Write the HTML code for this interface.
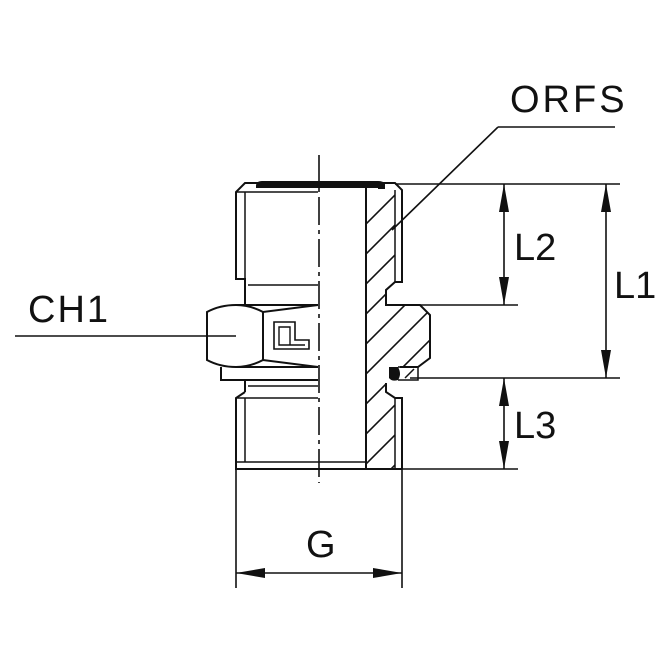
<!DOCTYPE html>
<html><head><style>body{margin:0;background:#fff}svg{display:block}text{font-family:"Liberation Sans",sans-serif;fill:#111}</style></head>
<body>
<svg width="670" height="670" viewBox="0 0 670 670" xmlns="http://www.w3.org/2000/svg">
<defs>
<clipPath id="wall"><path d="M366 192 L395 192 L395 282 L386 290 L386 305 L420 305 L430 315 L430 358 L418 367 L386 367 L386 392 L395 398 L395 469 L366 469 Z"/></clipPath>
</defs>
<g stroke="#111" stroke-width="2" fill="none">
<g clip-path="url(#wall)" stroke-width="1.6">
<path d="M340 250 L440 150 M340 280 L440 180 M340 310 L440 210 M340 340 L440 240 M340 370 L440 270 M340 400 L440 300 M340 430 L440 330 M340 460 L440 360 M340 490 L440 390 M340 520 L440 420 M340 550 L440 450 M340 580 L440 480"/>
</g>
<path d="M319 155 L319 483" stroke-width="1.6" stroke-dasharray="28,5,4,5"/>
<path d="M318 183 L245 183 L236 192 L236 279 L245 279 L245 304"/>
<path d="M245 192 L245 279 M236 192 L318 192" stroke-width="1.5"/>
<path d="M248 285 L318 285" stroke-width="1.5"/>
<path d="M236 305 L318 305 M236 367 L318 367"/>
<path d="M318 305 L263 312 Q250 305 236 305 Q220 305 207 312 L207 360 Q220 367 236 367 Q250 367 263 360 L318 367"/>
<path d="M263 312 L263 360"/>
<path d="M274 322 L295 322 L295 340 L309 340 L309 349 L274 349 Z" stroke-width="1.6"/>
<path d="M279 327 L290 327 L290 345 L279 345 Z M290 345 L305 345" stroke-width="1.4"/>
<path d="M221 367 L221 380 L318 380 M245 380 L245 392"/>
<path d="M248 386 L318 386" stroke-width="1.5"/>
<path d="M245 392 L236 398 L236 469 L402 469"/>
<path d="M245 398 L245 462 M236 398 L318 398 M236 462 L318 462" stroke-width="1.5"/>
<path d="M366 183 L366 469"/>
<path d="M318 462 L366 462" stroke-width="1.5"/>
<path d="M380 183 L395 183 L402 190 L402 282 L395 282 L386 290 L386 305 L420 305 L430 315 L430 358 L418 367 L400 367 M386 383 L386 392 L395 398 L402 398 L402 469"/>
<path d="M395 190 L395 282 M395 398 L395 469" stroke-width="1.5"/>
<path d="M398 367 L418 367 L418 380 L398 380" stroke-width="1.5"/>
<path d="M405 378 L414 369" stroke-width="1.5"/>
<path d="M395 184 L620 184 M395 305 L518 305 M410 378 L620 378 M402 469 L518 469" stroke-width="1.6"/>
<path d="M504 184 L504 305 M606 184 L606 378 M504 378 L504 469" stroke-width="1.6"/>
<path d="M236 469 L236 588 M402 469 L402 588 M236 573 L402 573" stroke-width="1.6"/>
<path d="M498 127 L615 127 M498 127 L392 230" stroke-width="1.6"/>
<path d="M15 336 L236 336" stroke-width="1.6"/>
</g>
<path d="M256 186 Q256 181 262 181 L378 181 Q385 181 385 186 L381 188 L256 188 Z" fill="#111"/>
<rect x="378" y="184" width="7" height="5" fill="#111"/>
<path d="M389 367 L398 367 Q402 374 398 380 Q392 382 389 378 Z" fill="#111"/>
<g fill="#111">
<path d="M504 184 L499 212 L509 212 Z M504 305 L499 277 L509 277 Z"/>
<path d="M606 184 L601 212 L611 212 Z M606 378 L601 350 L611 350 Z"/>
<path d="M504 378 L499 406 L509 406 Z M504 469 L499 441 L509 441 Z"/>
<path d="M236 573 L265 568 L265 578 Z M402 573 L373 568 L373 578 Z"/>
</g>
<text x="510" y="112" font-size="38" letter-spacing="3">ORFS</text>
<text x="514" y="260" font-size="38">L2</text>
<text x="614" y="298" font-size="38">L1</text>
<text x="514" y="438" font-size="38">L3</text>
<text x="306" y="557" font-size="38">G</text>
<text x="28" y="322" font-size="38" letter-spacing="2">CH1</text>
</svg>
</body></html>
